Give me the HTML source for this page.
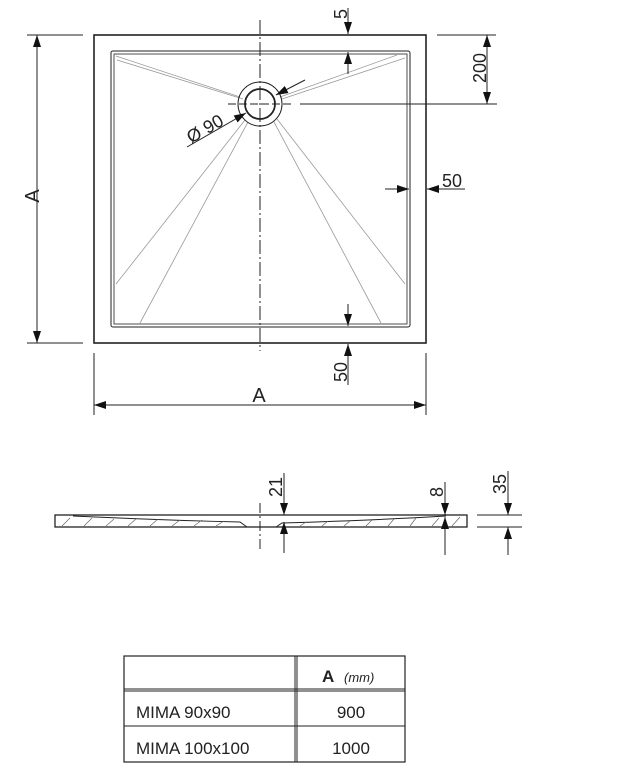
<!DOCTYPE html>
<html><head><meta charset="utf-8"><style>
html,body{margin:0;padding:0;background:#fff;}
svg{display:block;font-family:"Liberation Sans",sans-serif;}
</style></head><body>
<svg width="623" height="772" viewBox="0 0 623 772" xmlns="http://www.w3.org/2000/svg">
<defs>
<marker id="a" viewBox="0 0 12 8" refX="12" refY="4" markerWidth="12" markerHeight="8" markerUnits="userSpaceOnUse" orient="auto"><path d="M0,0L12,4L0,8z" fill="#111"/></marker>
</defs>
<g stroke="#222" fill="none">
<rect x="94" y="35" width="332" height="308" stroke-width="1.6"/>
<rect x="111" y="51" width="299" height="276" rx="2" stroke-width="1"/>
<rect x="114" y="54" width="293" height="270" stroke-width="0.8"/>
<g stroke="#999" stroke-width="0.8">
<line x1="116" y1="56" x2="240" y2="97"/><line x1="117" y1="60" x2="243" y2="99"/>
<line x1="397" y1="55" x2="280" y2="97"/><line x1="405" y1="58" x2="282" y2="99"/>
<line x1="116" y1="284" x2="245" y2="120"/><line x1="140" y1="323" x2="248" y2="122"/>
<line x1="381" y1="323" x2="274" y2="122"/><line x1="405" y1="284" x2="277" y2="119"/>
</g>
<circle cx="260" cy="104" r="22" stroke-width="1"/>
<circle cx="260" cy="104" r="15" stroke-width="1.8"/>
<line x1="260" y1="20" x2="260" y2="351" stroke-width="1" stroke-dasharray="14,3,2,3"/>
<line x1="228" y1="104" x2="292" y2="104" stroke-width="1" stroke-dasharray="8,3"/>
<line x1="300" y1="104" x2="497" y2="104" stroke-width="1"/>
<line x1="27" y1="35" x2="83" y2="35" stroke-width="1"/>
<line x1="27" y1="343" x2="83" y2="343" stroke-width="1"/>
<line x1="37" y1="189" x2="37" y2="35" stroke-width="1" marker-end="url(#a)"/>
<line x1="37" y1="189" x2="37" y2="343" stroke-width="1" marker-end="url(#a)"/>
<line x1="437" y1="35" x2="496" y2="35" stroke-width="1"/>
<line x1="487" y1="70" x2="487" y2="35" stroke-width="1" marker-end="url(#a)"/>
<line x1="487" y1="70" x2="487" y2="104" stroke-width="1" marker-end="url(#a)"/>
<line x1="348" y1="8" x2="348" y2="34" stroke-width="1" marker-end="url(#a)"/>
<line x1="348" y1="74" x2="348" y2="52" stroke-width="1" marker-end="url(#a)"/>
<line x1="385" y1="189" x2="409" y2="189" stroke-width="1" marker-end="url(#a)"/>
<line x1="465" y1="189" x2="427" y2="189" stroke-width="1" marker-end="url(#a)"/>
<line x1="348" y1="304" x2="348" y2="326" stroke-width="1" marker-end="url(#a)"/>
<line x1="348" y1="385" x2="348" y2="344" stroke-width="1" marker-end="url(#a)"/>
<line x1="94" y1="353" x2="94" y2="415" stroke-width="1"/>
<line x1="426" y1="353" x2="426" y2="415" stroke-width="1"/>
<line x1="260" y1="405" x2="94" y2="405" stroke-width="1" marker-end="url(#a)"/>
<line x1="260" y1="405" x2="426" y2="405" stroke-width="1" marker-end="url(#a)"/>
<line x1="187" y1="147" x2="246" y2="113" stroke-width="1" marker-end="url(#a)"/>
<line x1="305" y1="80" x2="276" y2="95" stroke-width="1" marker-end="url(#a)"/>
<rect x="55" y="515" width="412" height="12" stroke-width="1.3"/>
<path d="M73,516 Q160,520 240,522 L247,527" stroke-width="1"/>
<path d="M276,527 L282,523 Q380,520 446,516" stroke-width="1"/>
<g stroke="#666" stroke-width="0.7">
<line x1="62" y1="526" x2="70" y2="518"/><line x1="84" y1="526" x2="92" y2="518"/><line x1="106" y1="526" x2="114" y2="519"/>
<line x1="128" y1="526" x2="136" y2="519"/><line x1="150" y1="526" x2="158" y2="519"/><line x1="172" y1="526" x2="180" y2="520"/>
<line x1="194" y1="526" x2="202" y2="520"/><line x1="216" y1="526" x2="224" y2="521"/>
<line x1="300" y1="526" x2="306" y2="522"/><line x1="322" y1="526" x2="328" y2="521"/><line x1="344" y1="526" x2="350" y2="521"/>
<line x1="366" y1="526" x2="372" y2="520"/><line x1="388" y1="526" x2="394" y2="519"/><line x1="410" y1="526" x2="416" y2="518"/>
<line x1="432" y1="526" x2="439" y2="518"/><line x1="452" y1="526" x2="460" y2="517"/>
</g>
<line x1="260" y1="503" x2="260" y2="549" stroke-width="1" stroke-dasharray="10,3,2,3"/>
<line x1="284" y1="473" x2="284" y2="515" stroke-width="1" marker-end="url(#a)"/>
<line x1="284" y1="553" x2="284" y2="522" stroke-width="1" marker-end="url(#a)"/>
<line x1="445" y1="482" x2="445" y2="515" stroke-width="1" marker-end="url(#a)"/>
<line x1="445" y1="555" x2="445" y2="517" stroke-width="1" marker-end="url(#a)"/>
<line x1="477" y1="515" x2="522" y2="515" stroke-width="1"/>
<line x1="477" y1="527" x2="522" y2="527" stroke-width="1"/>
<line x1="508" y1="471" x2="508" y2="515" stroke-width="1" marker-end="url(#a)"/>
<line x1="508" y1="555" x2="508" y2="527" stroke-width="1" marker-end="url(#a)"/>
<rect x="124" y="656" width="281" height="106" stroke-width="1.2"/>
<line x1="124" y1="689" x2="405" y2="689" stroke-width="1"/>
<line x1="124" y1="691" x2="405" y2="691" stroke-width="1"/>
<line x1="124" y1="726" x2="405" y2="726" stroke-width="1"/>
<line x1="295" y1="656" x2="295" y2="762" stroke-width="1"/>
<line x1="297" y1="656" x2="297" y2="762" stroke-width="1"/>
</g>
<g fill="#222" font-size="18">
<text x="0" y="0" transform="translate(39,196) rotate(-90)" text-anchor="middle" font-size="20">A</text>
<text x="0" y="0" transform="translate(486,68) rotate(-90)" text-anchor="middle">200</text>
<text x="0" y="0" transform="translate(347,14) rotate(-90)" text-anchor="middle">5</text>
<text x="442" y="187">50</text>
<text x="0" y="0" transform="translate(347,372) rotate(-90)" text-anchor="middle">50</text>
<text x="259" y="402" text-anchor="middle" font-size="20">A</text>
<text x="0" y="0" transform="translate(208,134) rotate(-30)" text-anchor="middle">Ø 90</text>
<text x="0" y="0" transform="translate(282,487) rotate(-90)" text-anchor="middle">21</text>
<text x="0" y="0" transform="translate(443,492) rotate(-90)" text-anchor="middle">8</text>
<text x="0" y="0" transform="translate(506,484) rotate(-90)" text-anchor="middle">35</text>
<text x="322" y="682" font-weight="bold" font-size="17">A</text>
<text x="344" y="682" font-style="italic" font-size="13">(mm)</text>
<text x="136" y="718" font-size="17">MIMA 90x90</text>
<text x="351" y="718" text-anchor="middle" font-size="17">900</text>
<text x="136" y="754" font-size="17">MIMA 100x100</text>
<text x="351" y="754" text-anchor="middle" font-size="17">1000</text>
</g>
</svg>
</body></html>
